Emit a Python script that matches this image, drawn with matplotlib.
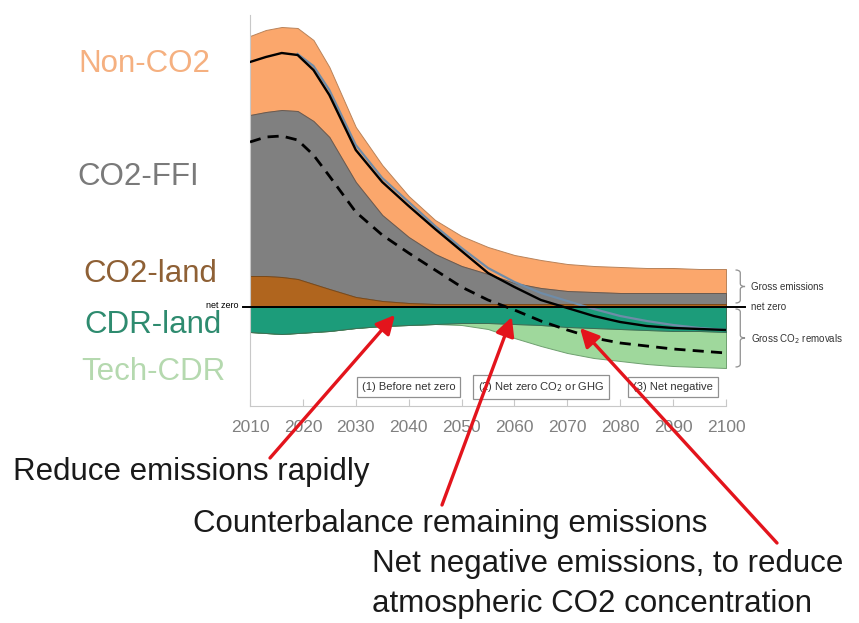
import matplotlib
matplotlib.use("Agg")
import matplotlib.pyplot as plt
import numpy as np
from matplotlib.path import Path
from matplotlib.patches import PathPatch

# values (arbitrary emission units, 0 = net zero)
years = [2010, 2013, 2016, 2019, 2022, 2025, 2030, 2035, 2040, 2045, 2050,
         2055, 2060, 2065, 2070, 2075, 2080, 2085, 2090, 2095, 2100]
co2_land = [31, 31, 30, 28, 23, 18, 10, 6, 4, 3, 3, 3, 3, 3, 3, 3, 3, 3, 3, 3, 3]
co2_ffi = [161, 164, 167, 168, 163, 152, 115, 86, 66, 50, 38, 30, 21, 16, 13, 12, 11, 11, 11, 11, 11]
non_co2 = [79, 82, 83, 83, 81, 70, 55, 50, 41, 34, 30, 27, 28, 28, 27, 26, 26, 25, 25, 24, 24]
cdr_land = [25, 26, 27, 26, 25, 24, 21, 19, 18, 17, 16, 16, 17, 18, 20, 21, 22, 23, 24, 24, 25]
tech_cdr = [0, 0, 0, 0, 0, 0, 0, 0, 0, 0, 2, 6, 14, 21, 26, 30, 32, 34, 35, 36, 36]
net_ghg = [245, 250, 254, 252, 237, 212, 157, 125, 101, 78, 56, 34, 20, 7, -1, -9, -15, -19, -21, -22, -23]
net_co2 = [165, 170, 171, 167, 152, 131, 95, 72, 54, 37, 20, 7, -3, -14, -23, -31, -36, -39, -42, -44, -46]
alt_years = [2019, 2022, 2025, 2030, 2035, 2040, 2045, 2050, 2055, 2060, 2065, 2070, 2075, 2080, 2085, 2090, 2095, 2100]
alt_ghg = [253, 241, 217, 162, 129, 105, 81, 59, 39, 25, 14, 6, -2, -9, -14, -18, -21, -23]

layer_names = ["Non-CO2", "CO2-FFI", "CO2-land", "CDR-land", "Tech-CDR"]
phases = ["(1) Before net zero", "(2) Net zero CO$_2$ or GHG", "(3) Net negative"]
phase_x = [2040, 2065, 2090]
messages = ["Reduce emissions rapidly", "Counterbalance remaining emissions",
            "Net negative emissions, to reduce\natmospheric CO2 concentration"]

c_orange = "#FBA76C"
c_grey = "#808080"
c_brown = "#B0651E"
c_dgreen = "#1C9C7A"
c_lgreen = "#9FD89C"

narrow = ["Liberation Sans Narrow", "Liberation Sans", "DejaVu Sans"]
plt.rcParams["font.family"] = ["Liberation Sans", "DejaVu Sans"]

x = np.array(years)
land = np.array(co2_land)
ffi_top = land + np.array(co2_ffi)
gross_top = ffi_top + np.array(non_co2)
cdr_bot = -np.array(cdr_land)
tech_bot = cdr_bot - np.array(tech_cdr)

fig = plt.figure(figsize=(8.59, 6.23), dpi=100)
ax = fig.add_axes([250 / 859, 1 - 406 / 623, 476 / 859, 391 / 623])

ax.fill_between(x, ffi_top, gross_top, color=c_orange, ec="#B9835A", lw=0.7, zorder=2)
ax.fill_between(x, land, ffi_top, color=c_grey, ec="#6A5A50", lw=0.7, zorder=2)
ax.fill_between(x, 0, land, color=c_brown, ec="#7A4A1A", lw=0.7, zorder=2)
ax.fill_between(x, cdr_bot, tech_bot, color=c_lgreen, ec="#6FA070", lw=0.7, zorder=2)
ax.fill_between(x, 0, cdr_bot, color=c_dgreen, ec="#3C6E55", lw=0.7, zorder=2)

ax.plot(alt_years, alt_ghg, color="#6F8CA8", lw=1.6, zorder=3)
ax.plot(x, net_ghg, color="black", lw=1.7, zorder=4)
ax.plot(x, net_co2, color="black", lw=2.0, ls=(0, (4, 2.6)), zorder=4)

# net zero line, running past the plot on both sides
ax.plot([2008.7, 2103.6], [0, 0], color="black", lw=1.4, zorder=5, clip_on=False)
ax.text(2007.9, 1.5, "net zero", ha="right", va="center", fontsize=6.5, family=narrow)

ax.set_xlim(2010, 2100)
ax.set_ylim(-99, 292)
ax.set_xticks(range(2010, 2101, 10))
ax.set_yticks([])
for s in ["top", "right"]:
    ax.spines[s].set_visible(False)
ax.spines["left"].set_color("#C8C8C8")
ax.spines["bottom"].set_color("#C8C8C8")
ax.tick_params(axis="x", direction="in", length=5, color="#C8C8C8", pad=10,
               labelsize=12.5, labelcolor="#808080")
for lab in ax.get_xticklabels():
    lab.set_family(narrow)


def brace(y_lo, y_hi, x0=2101.8, w=1.8):
    xm = x0 + w / 2
    ym = (y_lo + y_hi) / 2
    d = 3
    verts = [(x0, y_hi), (xm, y_hi), (xm, y_hi - d),
             (xm, ym + d), (xm, ym), (x0 + w, ym),
             (xm, ym), (xm, ym - d),
             (xm, y_lo + d), (xm, y_lo), (x0, y_lo)]
    codes = [Path.MOVETO, Path.CURVE3, Path.CURVE3,
             Path.LINETO, Path.CURVE3, Path.CURVE3,
             Path.CURVE3, Path.CURVE3,
             Path.LINETO, Path.CURVE3, Path.CURVE3]
    ax.add_patch(PathPatch(Path(verts, codes), fc="none", ec="#909090", lw=0.9,
                           clip_on=False, zorder=5))
    return x0 + w


bx = brace(4, gross_top[-1] - 1)
brace(tech_bot[-1] + 1, -2)
ax.text(bx + 1.2, 20, "Gross emissions", fontsize=7, va="center", family=narrow, color="#333333")
ax.text(bx + 1.2, 0, "net zero", fontsize=7, va="center", family=narrow, color="#333333")
ax.text(bx + 1.2, -32, "Gross CO$_2$ removals", fontsize=7, va="center", family=narrow, color="#333333")

for px, ph in zip(phase_x, phases):
    ax.text(px, -80, ph, ha="center", va="center", fontsize=8, family=narrow, color="#333333",
            bbox=dict(boxstyle="square,pad=0.45", fc="white", ec="#909090", lw=0.9), zorder=6)

# category labels on the left
label_colors = ["#F5B080", "#7A7A7A", "#8E6035", "#2E8B6F", "#B5D9AF"]
label_base = [72, 185, 282, 333, 380]
label_left = [78, 77, 83, 84, 81]
for name, col, yb, xl in zip(layer_names, label_colors, label_base, label_left):
    fig.text(xl / 859, 1 - yb / 623, name, color=col, fontsize=22.5, va="baseline")

# messages with red arrows, one text per line so baselines match
msg_pos = [(13, [480]), (193, [532]), (372, [572, 612])]
for msg, (mx, bases) in zip(messages, msg_pos):
    for line, my in zip(msg.split("\n"), bases):
        fig.text(mx / 859, 1 - my / 623, line, fontsize=22.5, va="baseline", color="#1A1A1A")

arrow_head = [(2037.4, -8), (2059.5, -10), (2072.4, -21)]
arrow_tail = [(270, 623 - 458), (442, 623 - 505), (777, 623 - 543)]
for (hx, hy), tail in zip(arrow_head, arrow_tail):
    ax.annotate("", xy=(hx, hy), xycoords="data", xytext=tail, textcoords="figure pixels",
                arrowprops=dict(arrowstyle="-|>,head_length=0.75,head_width=0.38",
                                color="#E3141C", lw=2.4, mutation_scale=15,
                                shrinkA=0, shrinkB=0),
                zorder=10, annotation_clip=False)

fig.savefig("out.png", dpi=100)
